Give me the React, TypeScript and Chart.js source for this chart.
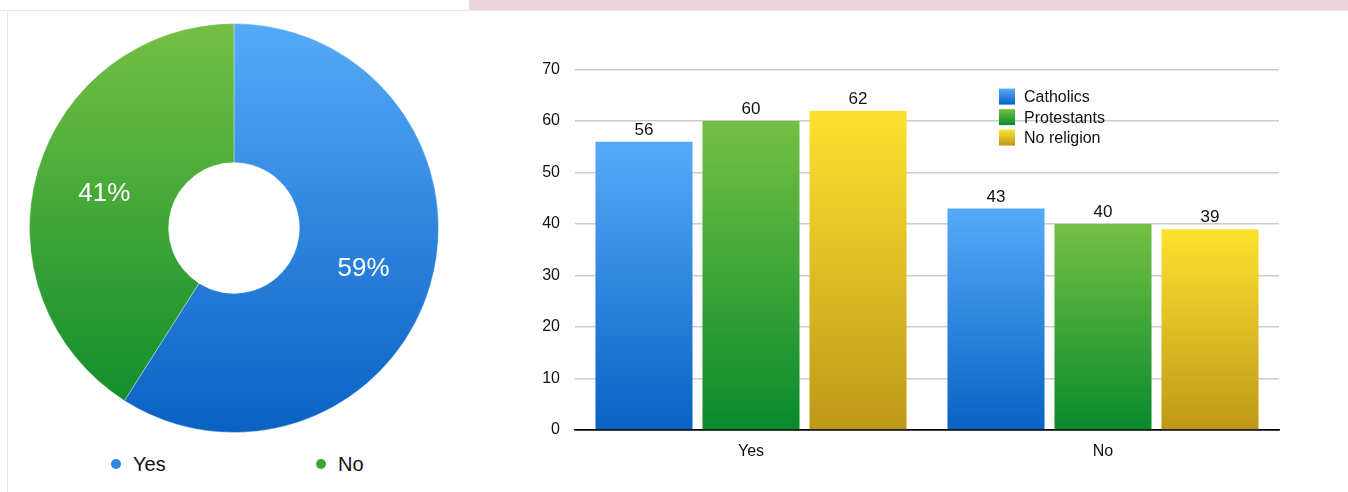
import React, { useEffect, useRef } from "react";
import { Chart, registerables } from "chart.js";

Chart.register(...registerables);

const pieLabels = ["Yes", "No"];
const pieValues = [59, 41];
const barCategories = ["Yes", "No"];
const seriesNames = ["Catholics", "Protestants", "No religion"];
const catholics = [56, 43];
const protestants = [60, 40];
const noReligion = [62, 39];
const yTicks = [0, 10, 20, 30, 40, 50, 60, 70];

const FONT = "'Liberation Sans', Arial, Helvetica, sans-serif";

const pieColors = [
  ["#55aaf8", "#0961c4"],
  ["#74c044", "#0a8a2b"],
];
const barColors = [
  ["#55aaf8", "#0862c4"],
  ["#74c044", "#098a2c"],
  ["#fce22f", "#be9919"],
];

export default function App() {
  const pieRef = useRef<HTMLCanvasElement>(null);
  const barRef = useRef<HTMLCanvasElement>(null);

  useEffect(() => {
    const pieCtx = pieRef.current!.getContext("2d")!;
    const pieGrad = (c: any) => {
      const i = c.dataIndex ?? 0;
      const chart = c.chart;
      const area = chart.chartArea;
      if (!area) return pieColors[i][0];
      const g = chart.ctx.createLinearGradient(0, area.top, 0, area.bottom);
      g.addColorStop(0, pieColors[i][0]);
      g.addColorStop(1, pieColors[i][1]);
      return g;
    };
    const pieLabelPlugin = {
      id: "pieLabels",
      afterDatasetsDraw(chart: any) {
        const ctx = chart.ctx;
        const meta = chart.getDatasetMeta(0);
        const total = pieValues.reduce((a, b) => a + b, 0);
        ctx.save();
        ctx.fillStyle = "#ffffff";
        ctx.font = `26px ${FONT}`;
        ctx.textAlign = "center";
        ctx.textBaseline = "middle";
        meta.data.forEach((arc: any, i: number) => {
          const mid = (arc.startAngle + arc.endAngle) / 2;
          const r = arc.innerRadius + (arc.outerRadius - arc.innerRadius) * 0.5;
          const x = arc.x + Math.cos(mid) * r;
          const y = arc.y + Math.sin(mid) * r;
          ctx.fillText(Math.round((pieValues[i] / total) * 100) + "%", x, y + 3);
        });
        ctx.restore();
      },
    };
    const pie = new Chart(pieCtx, {
      type: "doughnut",
      data: {
        labels: pieLabels,
        datasets: [
          {
            data: pieValues,
            backgroundColor: pieGrad as any,
            borderColor: "rgba(255,255,255,0.35)",
            borderWidth: 1,
          },
        ],
      },
      options: {
        animation: false,
        responsive: false,
        cutout: "32%",
        layout: { padding: 0 },
        plugins: { legend: { display: false }, tooltip: { enabled: false } },
      },
      plugins: [pieLabelPlugin],
    });

    const barCtx = barRef.current!.getContext("2d")!;
    const barGrad = (i: number) => (c: any) => {
      const chart = c.chart;
      const area = chart.chartArea;
      if (!area || c.type !== "data") return barColors[i][0];
      const v = c.parsed ? c.parsed.y : c.raw;
      const top = chart.scales.y.getPixelForValue(v);
      const bottom = chart.scales.y.getPixelForValue(0);
      const g = chart.ctx.createLinearGradient(0, top, 0, bottom);
      g.addColorStop(0, barColors[i][0]);
      g.addColorStop(1, barColors[i][1]);
      return g;
    };
    const barExtras = {
      id: "barExtras",
      afterDatasetsDraw(chart: any) {
        const ctx = chart.ctx;
        ctx.save();
        ctx.fillStyle = "#111";
        ctx.font = `17px ${FONT}`;
        ctx.textAlign = "center";
        ctx.textBaseline = "bottom";
        chart.data.datasets.forEach((ds: any, di: number) => {
          const meta = chart.getDatasetMeta(di);
          meta.data.forEach((bar: any, i: number) => {
            ctx.fillText(String(ds.data[i]), bar.x, bar.y - 3);
          });
        });
        // legend
        const lx = chart.chartArea.left + 424;
        const ly = chart.chartArea.top + 27;
        ctx.font = `16px ${FONT}`;
        ctx.textAlign = "left";
        ctx.textBaseline = "middle";
        seriesNames.forEach((name, i) => {
          const y = ly + i * 20.5;
          const g = ctx.createLinearGradient(0, y - 8, 0, y + 8);
          g.addColorStop(0, barColors[i][0]);
          g.addColorStop(1, barColors[i][1]);
          ctx.fillStyle = g;
          ctx.fillRect(lx, y - 8, 16, 16);
          ctx.fillStyle = "#111";
          ctx.fillText(name, lx + 25, y + 1);
        });
        ctx.restore();
      },
    };
    const bar = new Chart(barCtx, {
      type: "bar",
      data: {
        labels: barCategories,
        datasets: [catholics, protestants, noReligion].map((d, i) => ({
          label: seriesNames[i],
          data: d,
          backgroundColor: barGrad(i) as any,
          borderWidth: 0,
          categoryPercentage: 0.912,
          barPercentage: 0.907,
        })),
      },
      options: {
        animation: false,
        responsive: false,
        layout: { padding: { top: 0, right: 11, left: 0, bottom: 0 } },
        plugins: { legend: { display: false }, tooltip: { enabled: false } },
        scales: {
          x: {
            grid: { display: false },
            border: { display: true, color: "#000", width: 1.5 },
            ticks: { color: "#111", font: { family: FONT, size: 16 }, padding: 4 },
            afterFit: (s: any) => {
              s.height = 40;
            },
          },
          y: {
            min: 0,
            max: 70,
            afterBuildTicks: (s: any) => {
              s.ticks = yTicks.map((v) => ({ value: v }));
            },
            grid: {
              color: (c: any) => (c.tick && c.tick.value === 0 ? "#000" : "#cccccc"),
              lineWidth: 1.5,
              drawTicks: false,
            },
            border: { display: false },
            ticks: { color: "#111", font: { family: FONT, size: 16 }, padding: 15 },
            afterFit: (s: any) => {
              s.width = 75;
            },
          },
        },
      },
      plugins: [barExtras],
    });

    return () => {
      pie.destroy();
      bar.destroy();
    };
  }, []);

  const dot = (color: string) => ({
    position: "absolute" as const,
    width: 10,
    height: 10,
    borderRadius: 5,
    background: color,
  });
  const legText = {
    position: "absolute" as const,
    fontFamily: FONT,
    fontSize: 20,
    color: "#111",
    lineHeight: "20px",
  };

  return (
    <div style={{ position: "absolute", left: 0, top: 0, width: 1348, height: 492, background: "#fff", overflow: "hidden" }}>
      <div style={{ position: "absolute", left: 0, top: 10, width: 1348, height: 1, background: "#e6e6e6" }} />
      <div style={{ position: "absolute", left: 469, top: 0, width: 879, height: 10, background: "#ead5df" }} />
      <div style={{ position: "absolute", left: 7, top: 11, width: 1, height: 481, background: "#e6e6e6" }} />
      <canvas ref={pieRef} width={410} height={410} style={{ position: "absolute", left: 29, top: 23, width: 410, height: 410 }} />
      <div style={{ ...dot("#2d86e6"), left: 111, top: 459 }} />
      <div style={{ ...legText, left: 133, top: 454 }}>{pieLabels[0]}</div>
      <div style={{ ...dot("#3ea33a"), left: 316, top: 459 }} />
      <div style={{ ...legText, left: 338, top: 454 }}>{pieLabels[1]}</div>
      <canvas ref={barRef} width={790} height={425} style={{ position: "absolute", left: 500, top: 45, width: 790, height: 425 }} />
    </div>
  );
}
